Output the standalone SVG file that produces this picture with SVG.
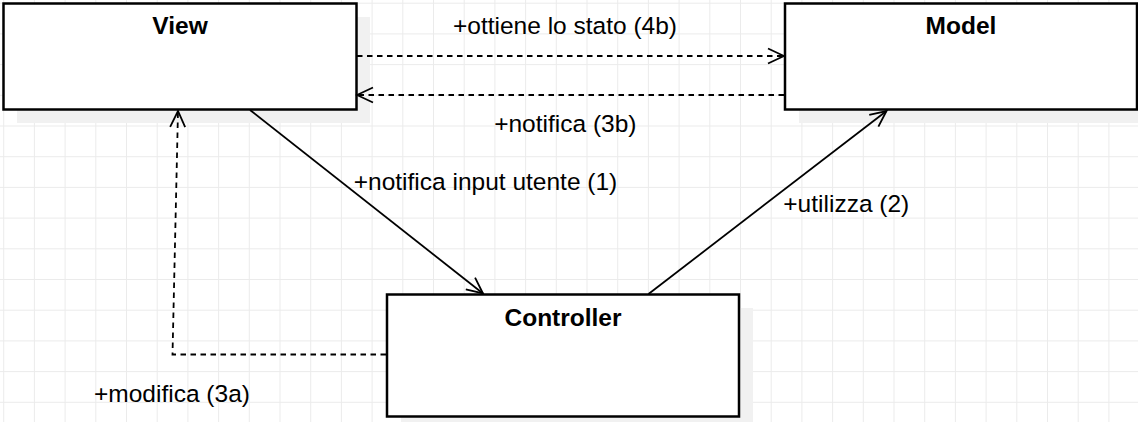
<svg xmlns="http://www.w3.org/2000/svg" width="1138" height="422" viewBox="0 0 1138 422">
  <style>
    .box { fill: #ffffff; stroke: #000000; stroke-width: 2.5; }
    .shadow { fill: #f1f1f1; stroke: none; }
    .title { font-family: "Liberation Sans", Arial, sans-serif; font-weight: bold; font-size: 24.5px; fill: #000; text-anchor: middle; }
    .label { font-family: "Liberation Sans", Arial, sans-serif; font-size: 24.5px; fill: #000; text-anchor: middle; }
    .edge { fill: none; stroke: #000; stroke-width: 1.8; }
    .dashed { stroke-dasharray: 5.5 4.5; }
  </style>
  <defs>
    <pattern id="grid" x="3.2" y="2.7" width="30.7" height="30.7" patternUnits="userSpaceOnUse">
      <path d="M0.5,0 V30.7 M0,0.5 H30.7" fill="none" stroke="#ebebeb" stroke-width="1"/>
    </pattern>
    <marker id="open" viewBox="-18 -9 20 18" refX="0" refY="0" markerWidth="20" markerHeight="18" markerUnits="userSpaceOnUse" orient="auto">
      <path d="M-16,-7.5 L0,0 L-16,7.5" fill="none" stroke="#000" stroke-width="1.8"/>
    </marker>
  </defs>

  <rect x="0" y="0" width="1138" height="422" fill="#ffffff"/>
  <rect x="0" y="0" width="1138" height="422" fill="url(#grid)"/>

  <g id="view">
    <rect class="shadow" x="17" y="17" width="353" height="106"/>
    <rect class="box" x="3.5" y="3.5" width="353" height="106"/>
    <text class="title" x="180" y="34">View</text>
  </g>

  <g id="model">
    <rect class="shadow" x="799" y="17" width="352" height="106"/>
    <rect class="box" x="785" y="3.5" width="352" height="106"/>
    <text class="title" x="961" y="34">Model</text>
  </g>

  <g id="controller">
    <rect class="shadow" x="401" y="308" width="352" height="122"/>
    <rect class="box" x="387" y="294.5" width="352" height="122"/>
    <text class="title" x="563" y="326">Controller</text>
  </g>

  <g id="connectors">
    <line class="edge dashed" x1="357" y1="56" x2="784" y2="56" marker-end="url(#open)"/>
    <line class="edge dashed" x1="784" y1="95" x2="357" y2="95" marker-end="url(#open)"/>
    <line class="edge" x1="250" y1="110" x2="483" y2="293.5" marker-end="url(#open)"/>
    <line class="edge" x1="648.5" y1="294" x2="886.5" y2="111" marker-end="url(#open)"/>
    <polyline class="edge dashed" points="386,354.5 172.5,354.5 178,111" marker-end="url(#open)"/>
  </g>

  <g id="labels">
    <text class="label" x="565" y="34.3">+ottiene lo stato (4b)</text>
    <text class="label" x="565.3" y="131.7">+notifica (3b)</text>
    <text class="label" x="485.5" y="190">+notifica input utente (1)</text>
    <text class="label" x="846.3" y="211.7">+utilizza (2)</text>
    <text class="label" x="172" y="401.7">+modifica (3a)</text>
  </g>
</svg>
